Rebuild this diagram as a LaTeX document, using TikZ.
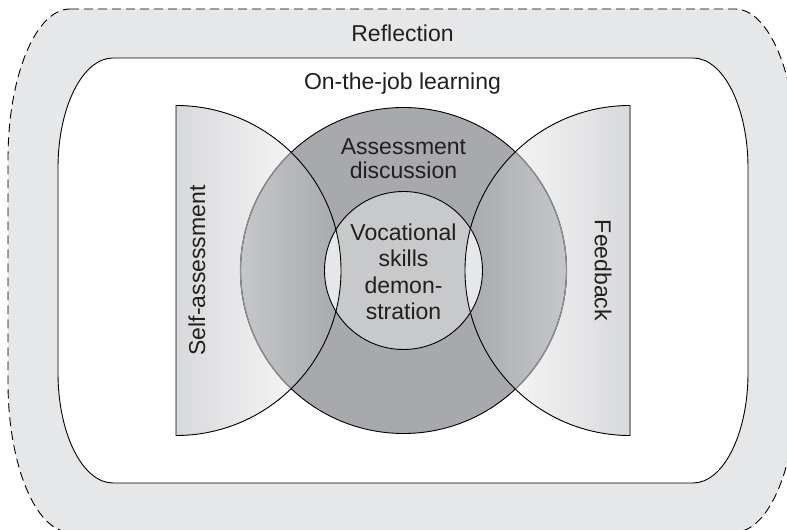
\documentclass[tikz,border=0pt]{standalone}
\usepackage{fontspec}
\setmainfont{Liberation Sans}
\definecolor{bandgray}{HTML}{E6E7E8}
\definecolor{ringgray}{HTML}{A7A9AC}
\definecolor{coregray}{HTML}{C8C9CB}
\definecolor{halfgray}{HTML}{D8D9DB}
\definecolor{mixgray}{HTML}{C6C7C9}
\definecolor{seamgray}{HTML}{8E8F91}
\definecolor{txtgray}{HTML}{231F20}
\def\cx{403.5}
\def\cy{259.5}
\tikzstyle{outline}=[draw=black,line width=0.9pt]
\tikzstyle{dashline}=[draw=black,line width=0.9pt,dash pattern=on 9pt off 5pt]
\tikzstyle{heading}=[text=txtgray,font=\fontsize{23}{24}\selectfont,align=center,inner sep=0pt]
\tikzstyle{coretext}=[heading,font=\fontsize{23}{26.5}\selectfont]

\begin{document}
\begin{tikzpicture}[x=1pt,y=1pt]
  \useasboundingbox (0,0) rectangle (787,530);
  \clip (0,0) rectangle (787,530);

  % Reflection band (dashed) and on-the-job frame
  \path[dashline,fill=bandgray] (70,521) -- (735,521)
    arc[start angle=90,end angle=0,x radius=62,y radius=150] -- (797,148)
    arc[start angle=0,end angle=-90,x radius=62,y radius=150] -- (70,-2)
    arc[start angle=270,end angle=180,x radius=62,y radius=150] -- (8,371)
    arc[start angle=180,end angle=90,x radius=62,y radius=150] -- cycle;
  \path[outline,fill=white] (113,472) -- (693,472)
    arc[start angle=90,end angle=0,x radius=55,y radius=110] -- (748,157)
    arc[start angle=0,end angle=-90,x radius=55,y radius=110] -- (113,47)
    arc[start angle=270,end angle=180,x radius=55,y radius=110] -- (58,362)
    arc[start angle=180,end angle=90,x radius=55,y radius=110] -- cycle;

  % Half discs
  \foreach \fx/\sa/\ea/\lc/\rc in {176/90/-90/halfgray/white, 630/-90/-270/white/halfgray}
    \fill[left color=\lc,right color=\rc] (\fx,\cy) ++(\sa:165)
      arc[start angle=\sa,end angle=\ea,radius=165] -- cycle;

  % Assessment ring
  \fill[ringgray] (\cx,\cy) circle[radius=163];

  % Where the half discs cover the ring
  \foreach \fx/\sa/\ea/\xa/\xb/\lc/\rc in {176/90/-90/240/341/mixgray/ringgray, 630/-90/-270/465/567/ringgray/mixgray} {
    \begin{scope}
      \clip (\fx,\cy) ++(\sa:165) arc[start angle=\sa,end angle=\ea,radius=165] -- cycle;
      \clip (\cx,\cy) circle[radius=163];
      \fill[left color=\lc,right color=\rc] (\xa,90) rectangle (\xb,430);
    \end{scope}
  }

  % Demonstration core
  \fill[coregray] (\cx,\cy) circle[radius=79];
  \draw[outline] (\cx,\cy) circle[radius=163];

  \foreach \fx/\sa/\ea in {176/90/-90, 630/-90/-270} {
    \begin{scope}
      \clip (\fx,\cy) ++(\sa:165) arc[start angle=\sa,end angle=\ea,radius=165] -- cycle;
      \fill[bandgray] (\cx,\cy) circle[radius=79];
      \draw[draw=seamgray,line width=1.2pt] (\cx,\cy) circle[radius=163];
    \end{scope}
    \draw[outline] (\fx,\cy) ++(\sa:165) arc[start angle=\sa,end angle=\ea,radius=165] -- cycle;
  }
  \draw[outline] (\cx,\cy) circle[radius=79];

  % Texts
  \node[heading] (refl) at (402.5,497) {Reflection};
  \node[heading] (otj) at (402.5,446) {On-the-job learning};
  \node[heading] (disc) at (\cx,371) {Assessment\\discussion};
  \node[coretext] (demo) at (\cx,258) {Vocational\\skills\\demon-\\stration};
  \node[heading,rotate=90] (self) at (197,\cy) {Self-assessment};
  \node[heading,rotate=-90] (feed) at (603,\cy) {Feedback};
\end{tikzpicture}
\end{document}
